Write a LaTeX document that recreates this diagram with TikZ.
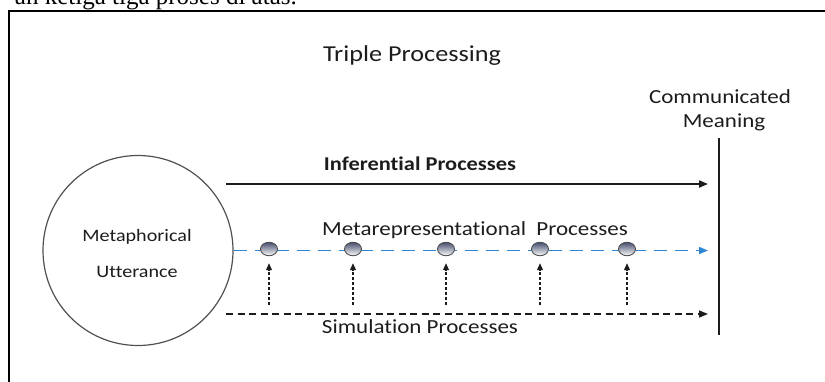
\documentclass[tikz,border=0pt]{standalone}
\usepackage{fontspec}
\setmainfont{Carlito}[Ligatures=NoCommon]
\newfontfamily\wide{Carlito}[FakeStretch=1.15, Ligatures=NoCommon]
\newfontfamily\bodyserif{Liberation Serif}
\usetikzlibrary{arrows.meta,shapes.geometric}
\definecolor{inkdark}{HTML}{1C1C1C}
\definecolor{flowblue}{HTML}{2E86D1}
\definecolor{rimgray}{HTML}{505050}
\definecolor{balltop}{HTML}{464E6E}
\begin{document}
\begin{tikzpicture}[x=1pt,y=-1pt,
  lbl/.style={inner sep=0pt, anchor=base, text=inkdark,
    font=\wide\fontsize{20}{24}\selectfont},
  ball/.style={ellipse, minimum width=17pt, minimum height=13.5pt, inner sep=0pt,
    draw=rimgray, line width=0.9pt, top color=balltop, bottom color=white},
  tip/.style={-{Triangle[length=9pt,width=7pt]}},
  smalltip/.style={-{Triangle[length=7pt,width=6pt]}},
  riser/.style={smalltip, line width=1.1pt, draw=inkdark, dash pattern=on 3pt off 2pt}
]
\useasboundingbox (0,0) rectangle (825,381);
\clip (0,0) rectangle (825,381);

% running text of the page above the figure
\node[inner sep=0pt, anchor=base east, font=\bodyserif\fontsize{25}{28}\selectfont]
  (runin) at (297,4) {an ketiga tiga proses di atas.};

% figure frame
\draw[line width=2pt, draw=black] (9,400) |- (830,11);

% title
\node[lbl, font=\wide\fontsize{22.8}{26}\selectfont] (title) at (412,61) {Triple Processing};

% source: the utterance
\node[circle, draw=rimgray, line width=1.2pt, minimum size=190pt, inner sep=0pt]
  (utt) at (138,250.5) {};
\node[lbl, font=\wide\fontsize{17.5}{21}\selectfont] (utt1) at (137,241) {Metaphorical};
\node[lbl, font=\wide\fontsize{17.5}{21}\selectfont] (utt2) at (137,277) {Utterance};

% target: communicated meaning
\coordinate (cm-top) at (719,138);
\coordinate (cm-bot) at (719,335);
\draw[line width=1.5pt, draw=inkdark] (cm-top) -- (cm-bot);
\node[lbl] (cm1) at (720,103) {Communicated};
\node[lbl] (cm2) at (724,127) {Meaning};

% inferential processes
\coordinate (inf-s) at (226,184);
\coordinate (inf-e) at (708,184);
\draw[tip, line width=2pt, draw=inkdark] (inf-s) -- (inf-e);
\node[lbl, font=\wide\bfseries\fontsize{19.5}{24}\selectfont] (inf) at (420,170) {Inferential Processes};

% metarepresentational processes
\coordinate (meta-e) at (708,250.5);
\draw[tip, line width=1.6pt, draw=flowblue, dash pattern=on 13pt off 8pt]
  (utt.east) -- (meta-e);
\node[lbl] (meta) at (475,235) {Metarepresentational\ \ Processes};

% simulation processes
\coordinate (sim-s) at (226,314);
\coordinate (sim-e) at (708,314);
\draw[tip, line width=1.5pt, draw=inkdark, dash pattern=on 7pt off 4.5pt] (sim-s) -- (sim-e);
\node[lbl] (sim) at (420,333) {Simulation Processes};

% stages on the metarepresentational line, fed from simulation
\foreach \i/\bx in {1/269, 2/353, 3/446, 4/540, 5/627} {
  \node[ball] (b\i) at (\bx,249) {};
  \coordinate (r\i) at (\bx,305);
  \draw[riser] (r\i) -- ([yshift=-7pt]b\i.south);
}
\end{tikzpicture}
\end{document}
